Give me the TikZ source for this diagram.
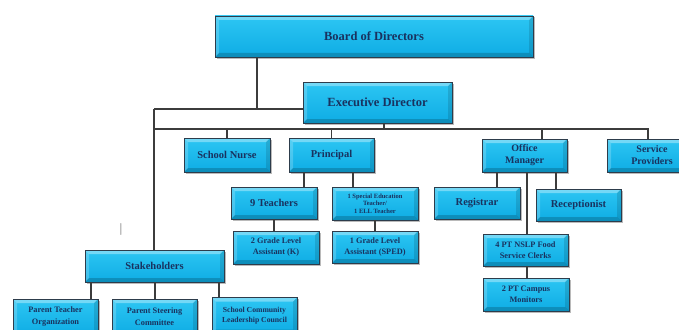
\documentclass[tikz,border=0pt]{standalone}
\usepackage{fontspec}
\setmainfont{Liberation Serif}
\usetikzlibrary{shadows}
\definecolor{boxtop}{RGB}{45,198,243}
\definecolor{boxbot}{RGB}{14,172,228}
\definecolor{boxline}{RGB}{45,60,75}
\definecolor{txt}{RGB}{25,50,95}
\definecolor{wire}{RGB}{60,60,60}
\tikzset{
  orgbox/.style={rectangle, top color=boxtop, bottom color=boxbot, draw=boxline, line width=0.8pt,
    text=txt, font=\bfseries, align=center, inner sep=1pt,
    drop shadow={shadow xshift=1.5pt, shadow yshift=-1.5pt, fill=black!45, opacity=0.6},
    path picture={
      \fill[white,opacity=0.35] (path picture bounding box.north west) -- (path picture bounding box.north east)
        -- ([xshift=-4pt,yshift=-4pt]path picture bounding box.north east) -- ([xshift=4pt,yshift=-4pt]path picture bounding box.north west) -- cycle;
      \fill[white,opacity=0.2] (path picture bounding box.north west) -- ([xshift=4pt,yshift=-4pt]path picture bounding box.north west)
        -- ([xshift=4pt,yshift=4pt]path picture bounding box.south west) -- (path picture bounding box.south west) -- cycle;
      \fill[black,opacity=0.18] (path picture bounding box.south west) -- (path picture bounding box.south east)
        -- ([xshift=-4pt,yshift=4pt]path picture bounding box.south east) -- ([xshift=4pt,yshift=4pt]path picture bounding box.south west) -- cycle;
      \fill[black,opacity=0.12] (path picture bounding box.north east) -- ([xshift=-4pt,yshift=-4pt]path picture bounding box.north east)
        -- ([xshift=-4pt,yshift=4pt]path picture bounding box.south east) -- (path picture bounding box.south east) -- cycle;
    }},
  wirestyle/.style={draw=wire, line width=1.3pt}
}
\begin{document}
\begin{tikzpicture}[x=1pt,y=-1pt]
\useasboundingbox (0,0) rectangle (679,329);
\begin{scope}
\clip (0,0) rectangle (679,329);
% boxes
\node[orgbox, minimum width=318pt, minimum height=41pt, font=\bfseries\fontsize{12.5}{14}\selectfont] (board) at (374,36.5) {Board of Directors};
\node[orgbox, minimum width=149pt, minimum height=41pt, font=\bfseries\fontsize{12.5}{14}\selectfont] (exec) at (377.5,102.5) {Executive Director};
\node[orgbox, minimum width=86pt, minimum height=34pt, font=\bfseries\fontsize{10.5}{12}\selectfont] (nurse) at (227,155) {School Nurse};
\node[orgbox, minimum width=85pt, minimum height=34pt, font=\bfseries\fontsize{10.5}{12}\selectfont] (principal) at (331.5,155) {Principal};
\node[orgbox, minimum width=85pt, minimum height=33pt, font=\bfseries\fontsize{10}{12}\selectfont] (office) at (524.5,155.5) {Office\\Manager};
\node[orgbox, minimum width=90pt, minimum height=33pt, font=\bfseries\fontsize{10}{12}\selectfont] (service) at (652,155.5) {Service\\Providers};
\node[orgbox, minimum width=86pt, minimum height=32pt, font=\bfseries\fontsize{10.5}{12}\selectfont] (teachers) at (274,203) {9 Teachers};
\node[orgbox, minimum width=86pt, minimum height=33pt, font=\bfseries\fontsize{6.5}{7.5}\selectfont] (sped) at (375,203.5) {1 Special Education\\Teacher/\\1 ELL Teacher};
\node[orgbox, minimum width=86pt, minimum height=33pt, font=\bfseries\fontsize{8.3}{11}\selectfont] (glak) at (276,247.5) {2 Grade Level\\Assistant (K)};
\node[orgbox, minimum width=86pt, minimum height=32pt, font=\bfseries\fontsize{8.3}{11}\selectfont] (glasped) at (375,247) {1 Grade Level\\Assistant (SPED)};
\node[orgbox, minimum width=86pt, minimum height=32pt, font=\bfseries\fontsize{10.5}{12}\selectfont] (registrar) at (477,203) {Registrar};
\node[orgbox, minimum width=85pt, minimum height=32pt, font=\bfseries\fontsize{10.5}{12}\selectfont] (recept) at (578.5,205) {Receptionist};
\node[orgbox, minimum width=85pt, minimum height=32pt, font=\bfseries\fontsize{8.3}{11}\selectfont] (nslp) at (525.5,250) {4 PT NSLP Food\\Service Clerks};
\node[orgbox, minimum width=86pt, minimum height=33pt, font=\bfseries\fontsize{8.3}{11}\selectfont] (campus) at (526,294.5) {2 PT Campus\\Monitors};
\node[orgbox, minimum width=139pt, minimum height=32pt, font=\bfseries\fontsize{10.5}{12}\selectfont] (stake) at (154.5,266) {Stakeholders};
\node[orgbox, minimum width=85pt, minimum height=36pt, font=\bfseries\fontsize{8.3}{12}\selectfont] (pto) at (55.5,317) {Parent Teacher\\Organization};
\node[orgbox, minimum width=85pt, minimum height=36pt, font=\bfseries\fontsize{8.3}{12}\selectfont] (psc) at (154.5,317) {Parent Steering\\Committee};
\node[orgbox, minimum width=85pt, minimum height=36pt, font=\bfseries\fontsize{7.7}{10.5}\selectfont] (sclc) at (254.5,315.5) {School Community\\Leadership Council};
% stray mark
\node[text=black!80, font=\fontsize{12}{12}\selectfont\sffamily, inner sep=0pt] (mark) at (121,229) {|};
% connectors
\coordinate (b1) at (257,109);
\coordinate (j1) at (154,109);
\coordinate (j2) at (154,129);
\coordinate (busc) at (384,129);
\coordinate (busr) at (648,129);
\draw[wirestyle] (board.south -| b1) -- (b1);
\draw[wirestyle] (j1) -- (exec.west |- j1);
\draw[wirestyle] (j1) -- (stake.north -| j1);
\draw[wirestyle] (exec.south -| busc) -- (busc);
\draw[wirestyle] (j2) -- (busr) -- (service.north -| busr);
\draw[wirestyle] (nurse.north |- j2) -- (nurse.north);
\draw[wirestyle] (principal.north |- j2) -- (principal.north);
\coordinate (om) at (542,129);
\draw[wirestyle] (om) -- (office.north -| om);
\coordinate (p1) at (304,0);
\coordinate (p2) at (353,0);
\draw[wirestyle] (principal.south -| p1) -- (teachers.north -| p1);
\draw[wirestyle] (principal.south -| p2) -- (sped.north -| p2);
\draw[wirestyle] (teachers.south) -- (glak.north -| teachers.south);
\draw[wirestyle] (sped.south) -- (glasped.north -| sped.south);
\coordinate (o1) at (497,0);
\coordinate (o2) at (527,0);
\coordinate (o3) at (556,0);
\draw[wirestyle] (office.south -| o1) -- (registrar.north -| o1);
\draw[wirestyle] (office.south -| o2) -- (nslp.north -| o2);
\draw[wirestyle] (office.south -| o3) -- (recept.north -| o3);
\draw[wirestyle] (nslp.south -| o2) -- (campus.north -| o2);
\coordinate (s1) at (91,0);
\coordinate (s2) at (155,0);
\coordinate (s3) at (219,0);
\draw[wirestyle] (stake.south -| s1) -- (pto.north -| s1);
\draw[wirestyle] (stake.south -| s2) -- (psc.north -| s2);
\draw[wirestyle] (stake.south -| s3) -- (sclc.north -| s3);
\end{scope}
\end{tikzpicture}
\end{document}
